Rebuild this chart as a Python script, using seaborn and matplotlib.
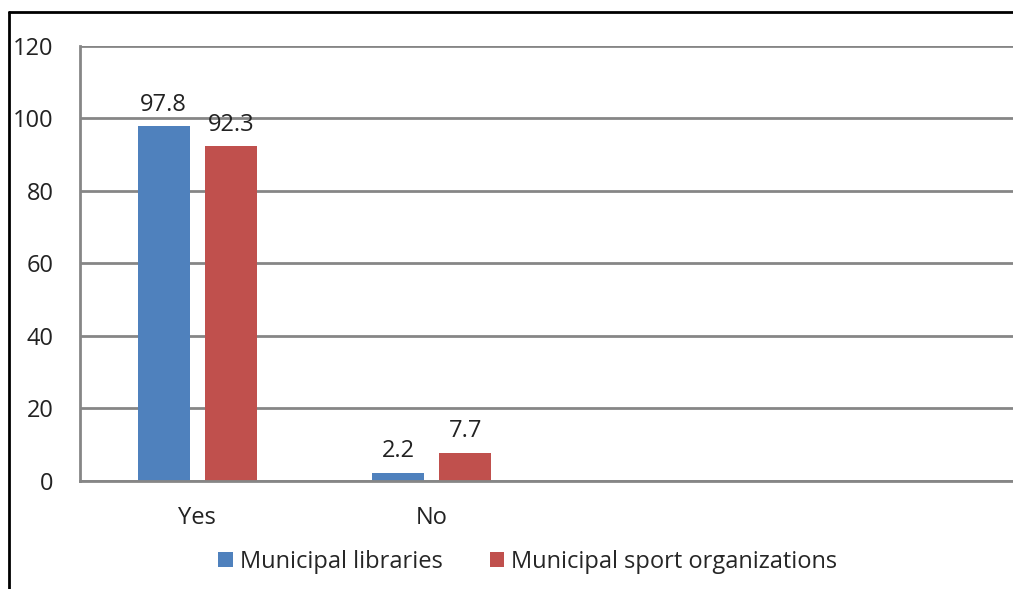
import numpy as np
import pandas as pd
import matplotlib
matplotlib.use("Agg")
import matplotlib.pyplot as plt
from matplotlib.lines import Line2D
from matplotlib.patches import Patch
import seaborn as sns

#%% data
categories = ["Yes", "No"]
series_names = ["Municipal libraries", "Municipal sport organizations"]
libraries = [97.8, 2.2]
sport_orgs = [92.3, 7.7]
colors = ["#4F81BD", "#C0504D"]

df = pd.DataFrame({
    "answer": categories * 2,
    "group": [series_names[0]] * 2 + [series_names[1]] * 2,
    "value": libraries + sport_orgs,
})

#%% plot
sns.set_style("white")
plt.rcParams["font.family"] = ["Open Sans", "DejaVu Sans"]
fs = 17

fig = plt.figure(figsize=(10.13, 5.89), dpi=100)
ax = fig.add_axes([0.079, 0.1834, 0.926, 0.7385])

sns.barplot(data=df, x="answer", y="value", hue="group", order=categories,
            hue_order=series_names, palette=colors, width=0.573, gap=0.224,
            saturation=1, linewidth=0, ax=ax, legend=False)

# value labels on top of bars
for cont in ax.containers:
    ax.bar_label(cont, fmt="%.1f", padding=7, fontsize=fs, color="#222222")

# 4 category slots like the excel original, only 2 used
ax.set_xlim(-0.5, 3.5)
ax.set_ylim(0, 120)
ax.set_yticks(np.arange(0, 121, 20))
ax.yaxis.grid(True, color="#868686", linewidth=2)
ax.set_axisbelow(True)
ax.set_xlabel("")
ax.set_ylabel("")
ax.tick_params(axis="both", length=0, labelsize=fs, colors="#222222")
ax.tick_params(axis="y", pad=19)
ax.tick_params(axis="x", pad=18)
for s in ["top", "right"]:
    ax.spines[s].set_visible(False)
for s in ["left", "bottom"]:
    ax.spines[s].set_color("#868686")
    ax.spines[s].set_linewidth(2)

# legend below
handles = [Patch(facecolor=c, edgecolor="none") for c in colors]
fig.legend(handles, series_names, loc="center", bbox_to_anchor=(0.521, 0.046),
           ncol=2, frameon=False, fontsize=fs, handlelength=0.6, handleheight=0.6,
           handletextpad=0.3, columnspacing=2.0)

# black frame on left and top (chart border)
fig.add_artist(Line2D([9 / 1013, 9 / 1013], [0, 1 - 12 / 589], color="black",
                      linewidth=2, transform=fig.transFigure))
fig.add_artist(Line2D([9 / 1013, 1], [1 - 12 / 589, 1 - 12 / 589], color="black",
                      linewidth=2, transform=fig.transFigure))

fig.savefig("out.png", dpi=100)
